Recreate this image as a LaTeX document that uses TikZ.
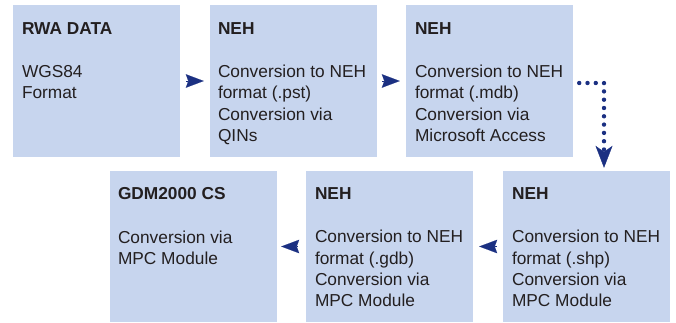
\documentclass[tikz,border=0pt]{standalone}
\usepackage{fontspec}
\setmainfont{Liberation Sans}
\usetikzlibrary{arrows.meta,calc}
\definecolor{boxblue}{RGB}{199,213,238}
\definecolor{navy}{RGB}{27,48,130}
\definecolor{ink}{RGB}{35,31,32}
\begin{document}
\begin{tikzpicture}[x=1pt,y=1pt,
  stage/.style={fill=boxblue, draw=none, minimum width=167pt, minimum height=152pt, inner sep=0pt},
  lowstage/.style={stage, minimum height=151pt},
  stagetext/.style={anchor=north west, inner sep=0pt, align=left, text=ink,
    font=\fontsize{17.3}{21.3}\selectfont},
  flow/.style={draw=navy, line width=0.1pt,
    -{Stealth[length=18pt,width=13.5pt,inset=2.5pt]}},
  dotflow/.style={draw=navy, line width=4.4pt, line cap=round,
    dash pattern=on 0pt off 8.3pt,
    -{Stealth[length=22pt,width=17pt,inset=6pt,line width=0.4pt]}}
]
\useasboundingbox (0,0) rectangle (676,322);

% upper row
\node[stage] (b1) at (96.5,241) {};
\node[stage] (b2) at (293.5,241) {};
\node[stage] (b3) at (489.5,241) {};
% lower row
\node[lowstage] (b4) at (193.5,75.5) {};
\node[lowstage] (b5) at (389.5,75.5) {};
\node[lowstage] (b6) at (586.5,75.5) {};

% box texts
\node[stagetext] (t1) at ($(b1.north west)+(9,-17.3)$)
  {\textbf{RWA DATA}\\[22pt]WGS84\\Format};
\node[stagetext] (t2) at ($(b2.north west)+(8,-17.3)$)
  {\textbf{NEH}\\[22pt]Conversion to NEH\\format (.pst)\\Conversion via\\QINs};
\node[stagetext] (t3) at ($(b3.north west)+(9,-17.3)$)
  {\textbf{NEH}\\[22pt]Conversion to NEH\\format (.mdb)\\Conversion via\\Microsoft Access};
\node[stagetext] (t4) at ($(b4.north west)+(8,-16.7)$)
  {\textbf{GDM2000 CS}\\[22pt]Conversion via\\MPC Module};
\node[stagetext] (t5) at ($(b5.north west)+(9,-16.7)$)
  {\textbf{NEH}\\[22pt]Conversion to NEH\\format (.gdb)\\Conversion via\\MPC Module};
\node[stagetext] (t6) at ($(b6.north west)+(9,-16.7)$)
  {\textbf{NEH}\\[22pt]Conversion to NEH\\format (.shp)\\Conversion via\\MPC Module};

% connectors
\draw[flow, shorten <=6pt, shorten >=6pt] (b1) -- (b2);
\draw[flow, shorten <=5pt, shorten >=6pt] (b2) -- (b3);
\draw[flow, shorten <=6pt, shorten >=6pt] (b6) -- (b5);
\draw[flow, shorten <=8pt, shorten >=4pt] (b5) -- (b4);
\draw[dotflow] ([xshift=6pt,yshift=-2pt]b3.east) -| ([xshift=17.5pt,yshift=3pt]b6.north);
\end{tikzpicture}
\end{document}
